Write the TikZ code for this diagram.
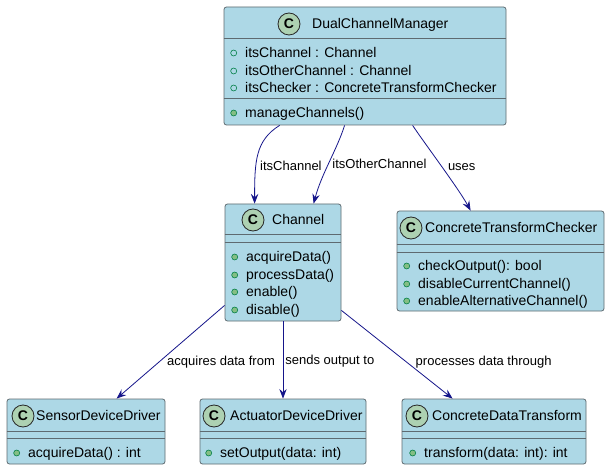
\documentclass[tikz,border=0pt]{standalone}
\usepackage{fontspec}
\setmainfont{Liberation Sans}
\usetikzlibrary{arrows.meta,calc,positioning}
\definecolor{umlblue}{HTML}{ADD8E6}
\definecolor{umlline}{HTML}{5E6A70}
\definecolor{spotgreen}{HTML}{ADD1B2}
\definecolor{visgreen}{HTML}{038048}
\definecolor{visfill}{HTML}{84BE84}
\definecolor{relnavy}{HTML}{15158A}
\tikzset{
  >={Stealth[length=3.4mm,width=2.6mm,inset=1.2mm]},
  % klasser
  cls/.style={draw=umlline,fill=umlblue,line width=0.8pt,rounded corners=2.5pt,
              inner sep=0pt},
  spot/.style={circle,draw=black!85,fill=spotgreen,line width=0.8pt,inner sep=0pt,
               minimum size=22pt,font=\fontsize{14}{14}\selectfont\bfseries},
  cname/.style={anchor=west,inner sep=0pt,text height=11pt,text depth=2pt,
                font=\fontsize{14}{17}\selectfont},
  mbr/.style={anchor=west,inner sep=0pt,text height=11pt,text depth=2pt,
              font=\fontsize{14}{17}\selectfont},
  fld/.style={circle,draw=visgreen,line width=0.6pt,minimum size=6pt,inner sep=0pt},
  mth/.style={fld,fill=visfill},
  fm/.style={mbr,label={[fld,label distance=8pt]left:{}}},
  mm/.style={mbr,label={[mth,label distance=8pt]left:{}}},
  sep/.style={draw=umlline,line width=0.8pt},
  % relationer
  rel/.style={->,draw=relnavy,line width=0.8pt},
  rl/.style={font=\fontsize{13}{15}\selectfont,inner sep=1pt,anchor=west,
             text height=10pt,text depth=2pt},
}
\begin{document}
\begin{tikzpicture}[x=1pt,y=-1pt]
  \path[fill=white] (0,0) rectangle (610,470);
  % DualChannelManager
  \node[cls,minimum width=282pt,minimum height=118pt] (dcm) at (365,66) {};
  \node[spot] (dcmspot) at (289,24) {C};
  \node[cname] (dcmname) at (312,24) {DualChannelManager};
  \draw[sep] ($(dcm.north west)+(0,32)$) -- ($(dcm.north east)+(0,32)$);
  \draw[sep] ($(dcm.north west)+(0,92)$) -- ($(dcm.north east)+(0,92)$);
  \node[fm] (dcmf1) at (245,53) {itsChannel : Channel};
  \node[fm] (dcmf2) at (245,71) {itsOtherChannel : Channel};
  \node[fm] (dcmf3) at (245,88) {itsChecker : ConcreteTransformChecker};
  \node[mm] (dcmm1) at (245,113) {manageChannels()};
  % Channel
  \node[cls,minimum width=116pt,minimum height=117pt] (chan) at (283,262.5) {};
  \node[spot] (chanspot) at (253,220) {C};
  \node[cname] (channame) at (272,220) {Channel};
  \draw[sep] ($(chan.north west)+(0,31)$) -- ($(chan.north east)+(0,31)$);
  \draw[sep] ($(chan.north west)+(0,39)$) -- ($(chan.north east)+(0,39)$);
  \node[mm] (chanm1) at (246,257) {acquireData()};
  \node[mm] (chanm2) at (246,275) {processData()};
  \node[mm] (chanm3) at (246,292) {enable()};
  \node[mm] (chanm4) at (246,310) {disable()};
  % ConcreteTransformChecker
  \node[cls,minimum width=207pt,minimum height=100pt] (ctc) at (500.5,261) {};
  \node[spot] (ctcspot) at (411,228) {C};
  \node[cname] (ctcname) at (425,228) {ConcreteTransformChecker};
  \draw[sep] ($(ctc.north west)+(0,34)$) -- ($(ctc.north east)+(0,34)$);
  \draw[sep] ($(ctc.north west)+(0,42)$) -- ($(ctc.north east)+(0,42)$);
  \node[mm] (ctcm1) at (418,266) {checkOutput(): bool};
  \node[mm] (ctcm2) at (418,284) {disableCurrentChannel()};
  \node[mm] (ctcm3) at (418,301) {enableAlternativeChannel()};
  % SensorDeviceDriver
  \node[cls,minimum width=158pt,minimum height=65pt] (sdd) at (86,431.5) {};
  \node[spot] (sddspot) at (23,416) {C};
  \node[cname] (sddname) at (36,416) {SensorDeviceDriver};
  \draw[sep] ($(sdd.north west)+(0,33)$) -- ($(sdd.north east)+(0,33)$);
  \draw[sep] ($(sdd.north west)+(0,40)$) -- ($(sdd.north east)+(0,40)$);
  \node[mm] (sddm1) at (28,453) {acquireData() : int};
  % ActuatorDeviceDriver
  \node[cls,minimum width=166pt,minimum height=65pt] (add) at (283,431.5) {};
  \node[spot] (addspot) at (214,416) {C};
  \node[cname] (addname) at (230,416) {ActuatorDeviceDriver};
  \draw[sep] ($(add.north west)+(0,33)$) -- ($(add.north east)+(0,33)$);
  \draw[sep] ($(add.north west)+(0,40)$) -- ($(add.north east)+(0,40)$);
  \node[mm] (addm1) at (220,453) {setOutput(data: int)};
  % ConcreteDataTransform
  \node[cls,minimum width=184pt,minimum height=65pt] (cdt) at (494,431.5) {};
  \node[spot] (cdtspot) at (417,416) {C};
  \node[cname] (cdtname) at (432,416) {ConcreteDataTransform};
  \draw[sep] ($(cdt.north west)+(0,33)$) -- ($(cdt.north east)+(0,33)$);
  \draw[sep] ($(cdt.north west)+(0,40)$) -- ($(cdt.north east)+(0,40)$);
  \node[mm] (cdtm1) at (424,453) {transform(data: int): int};
  % relationer
  \draw[rel] ($(dcm.south west)+(56,0)$) .. controls +(-24,15) and +(0,-43) ..
    node[rl,pos=0.66,xshift=3pt]{itsChannel} ($(chan.north west)+(30,0)$);
  \draw[rel] ($(dcm.south west)+(121,0)$) .. controls +(-8,25) and +(8,-30) ..
    node[rl,pos=0.53,xshift=3pt]{itsOtherChannel} ($(chan.north west)+(89,0)$);
  \draw[rel] ($(dcm.south west)+(189,0)$) .. controls +(12,18) and +(-12,-22) ..
    node[rl,pos=0.5,xshift=5pt]{uses} ($(ctc.north west)+(74,0)$);
  \draw[rel] ($(chan.south west)+(0,-16)$) --
    node[rl,pos=0.6,xshift=6pt]{acquires data from} ($(sdd.north west)+(110,0)$);
  \draw[rel] (chan.south) --
    node[rl,pos=0.51,xshift=1pt]{sends output to} (add.north);
  \draw[rel] ($(chan.south east)+(0,-11)$) --
    node[rl,pos=0.575,xshift=9pt]{processes data through} ($(cdt.north west)+(51,0)$);
\end{tikzpicture}
\end{document}
